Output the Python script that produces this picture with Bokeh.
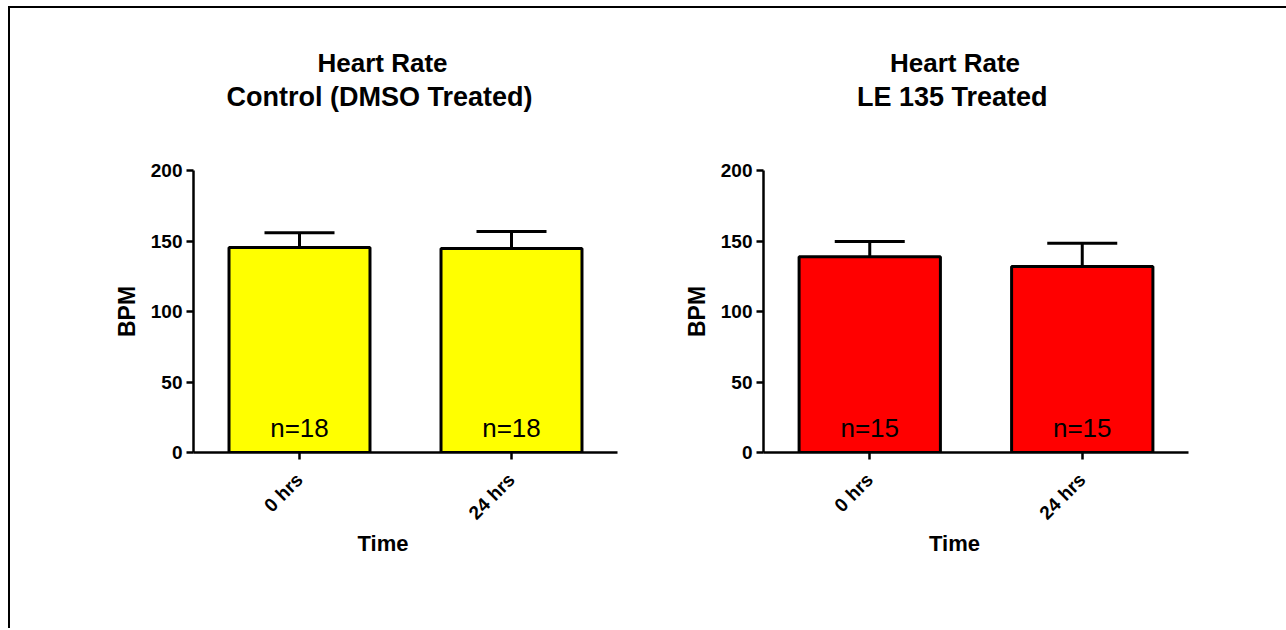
from math import pi
from bokeh.plotting import figure
from bokeh.layouts import row
from bokeh.models import (ColumnDataSource, FactorRange, Range1d, Whisker, TeeHead,
                          Title, FixedTicker)
from bokeh.core.properties import value
from bokeh.embed import file_html
from bokeh.resources import INLINE

# ---- data ----
times = ["0 hrs", "24 hrs"]
control_bpm = [145.4, 144.7]
control_sem = [10.4, 12.0]
control_n = [18, 18]
le135_bpm = [138.8, 131.9]
le135_sem = [10.8, 16.5]
le135_n = [15, 15]
yticks = [0, 50, 100, 150, 200]

FONT = "Liberation Sans"


def panel(subtitle, means, sems, ns, color, width, left, right, offs):
    p = figure(x_range=FactorRange(factors=times, range_padding=0),
               y_range=Range1d(0, 200), width=width, height=620,
               output_backend="svg", toolbar_location=None,
               min_border_left=left, min_border_right=right,
               min_border_top=162, min_border_bottom=176)
    p.outline_line_color = None
    p.xgrid.grid_line_color = None
    p.ygrid.grid_line_color = None

    src = ColumnDataSource(dict(x=times, top=means,
                                upper=[m + s for m, s in zip(means, sems)],
                                label=["n=%d" % n for n in ns],
                                ly=[17.5] * len(times)))
    p.vbar(x="x", top="top", width=0.665, bottom=0, source=src,
           fill_color=color, line_color="black", line_width=3)
    p.add_layout(Whisker(base="x", lower="top", upper="upper", source=src,
                         line_color="black", line_width=3,
                         upper_head=TeeHead(size=70, line_color="black", line_width=3),
                         lower_head=None))
    p.text(x="x", y="ly", text="label", source=src, text_align="center",
           text_baseline="alphabetic", text_font=value(FONT),
           text_font_size="26px", text_color="black")

    for ax in (p.xaxis[0], p.yaxis[0]):
        ax.axis_line_width = 2.5
        ax.axis_line_color = "black"
        ax.major_tick_line_width = 2.5
        ax.major_tick_line_color = "black"
        ax.major_tick_out = 7
        ax.major_tick_in = 0
        ax.minor_tick_line_color = None
        ax.major_label_text_font = FONT
        ax.major_label_text_font_style = "bold"
        ax.major_label_text_font_size = "19px"
        ax.major_label_text_color = "black"

    p.yaxis.ticker = FixedTicker(ticks=yticks)
    p.yaxis.major_label_standoff = 4
    p.yaxis.axis_label = "BPM"
    p.yaxis.axis_label_text_font = FONT
    p.yaxis.axis_label_text_font_style = "bold"
    p.yaxis.axis_label_text_font_size = "23px"
    p.yaxis.axis_label_standoff = 8
    p.yaxis.axis_label_text_color = "black"

    p.xaxis.major_label_orientation = pi / 4
    p.xaxis.major_label_standoff = 17

    o1, o2, o3 = offs
    # gap between the plot frame and the two-line heading
    p.add_layout(Title(text=" ", standoff=56, text_font=FONT,
                       text_font_size="1px"), "above")
    p.add_layout(Title(text=subtitle, align="left", offset=o2, standoff=0,
                       text_font=FONT, text_font_style="bold",
                       text_font_size="27px", text_color="black"), "above")
    p.add_layout(Title(text="Heart Rate", align="left", offset=o1, standoff=4,
                       text_font=FONT, text_font_style="bold",
                       text_font_size="26px", text_color="black"), "above")
    p.add_layout(Title(text="Time", align="left", offset=o3, standoff=-6,
                       vertical_align="top",
                       text_font=FONT, text_font_style="bold",
                       text_font_size="22px", text_color="black"), "below")
    return p


p1 = panel("Control (DMSO Treated)", control_bpm, control_sem, control_n,
           "#FFFF00", 637, 183, 30, (124, 33, 164))
p2 = panel("LE 135 Treated", le135_bpm, le135_sem, le135_n,
           "#FF0000", 639, 116, 98, (126.5, 93.5, 165.5))

layout = row(p1, p2, styles={"border-top": "2px solid black",
                             "border-left": "2px solid black",
                             "margin-left": "8px", "margin-top": "6px"})

open("out.html", "w").write(file_html(layout, INLINE))
